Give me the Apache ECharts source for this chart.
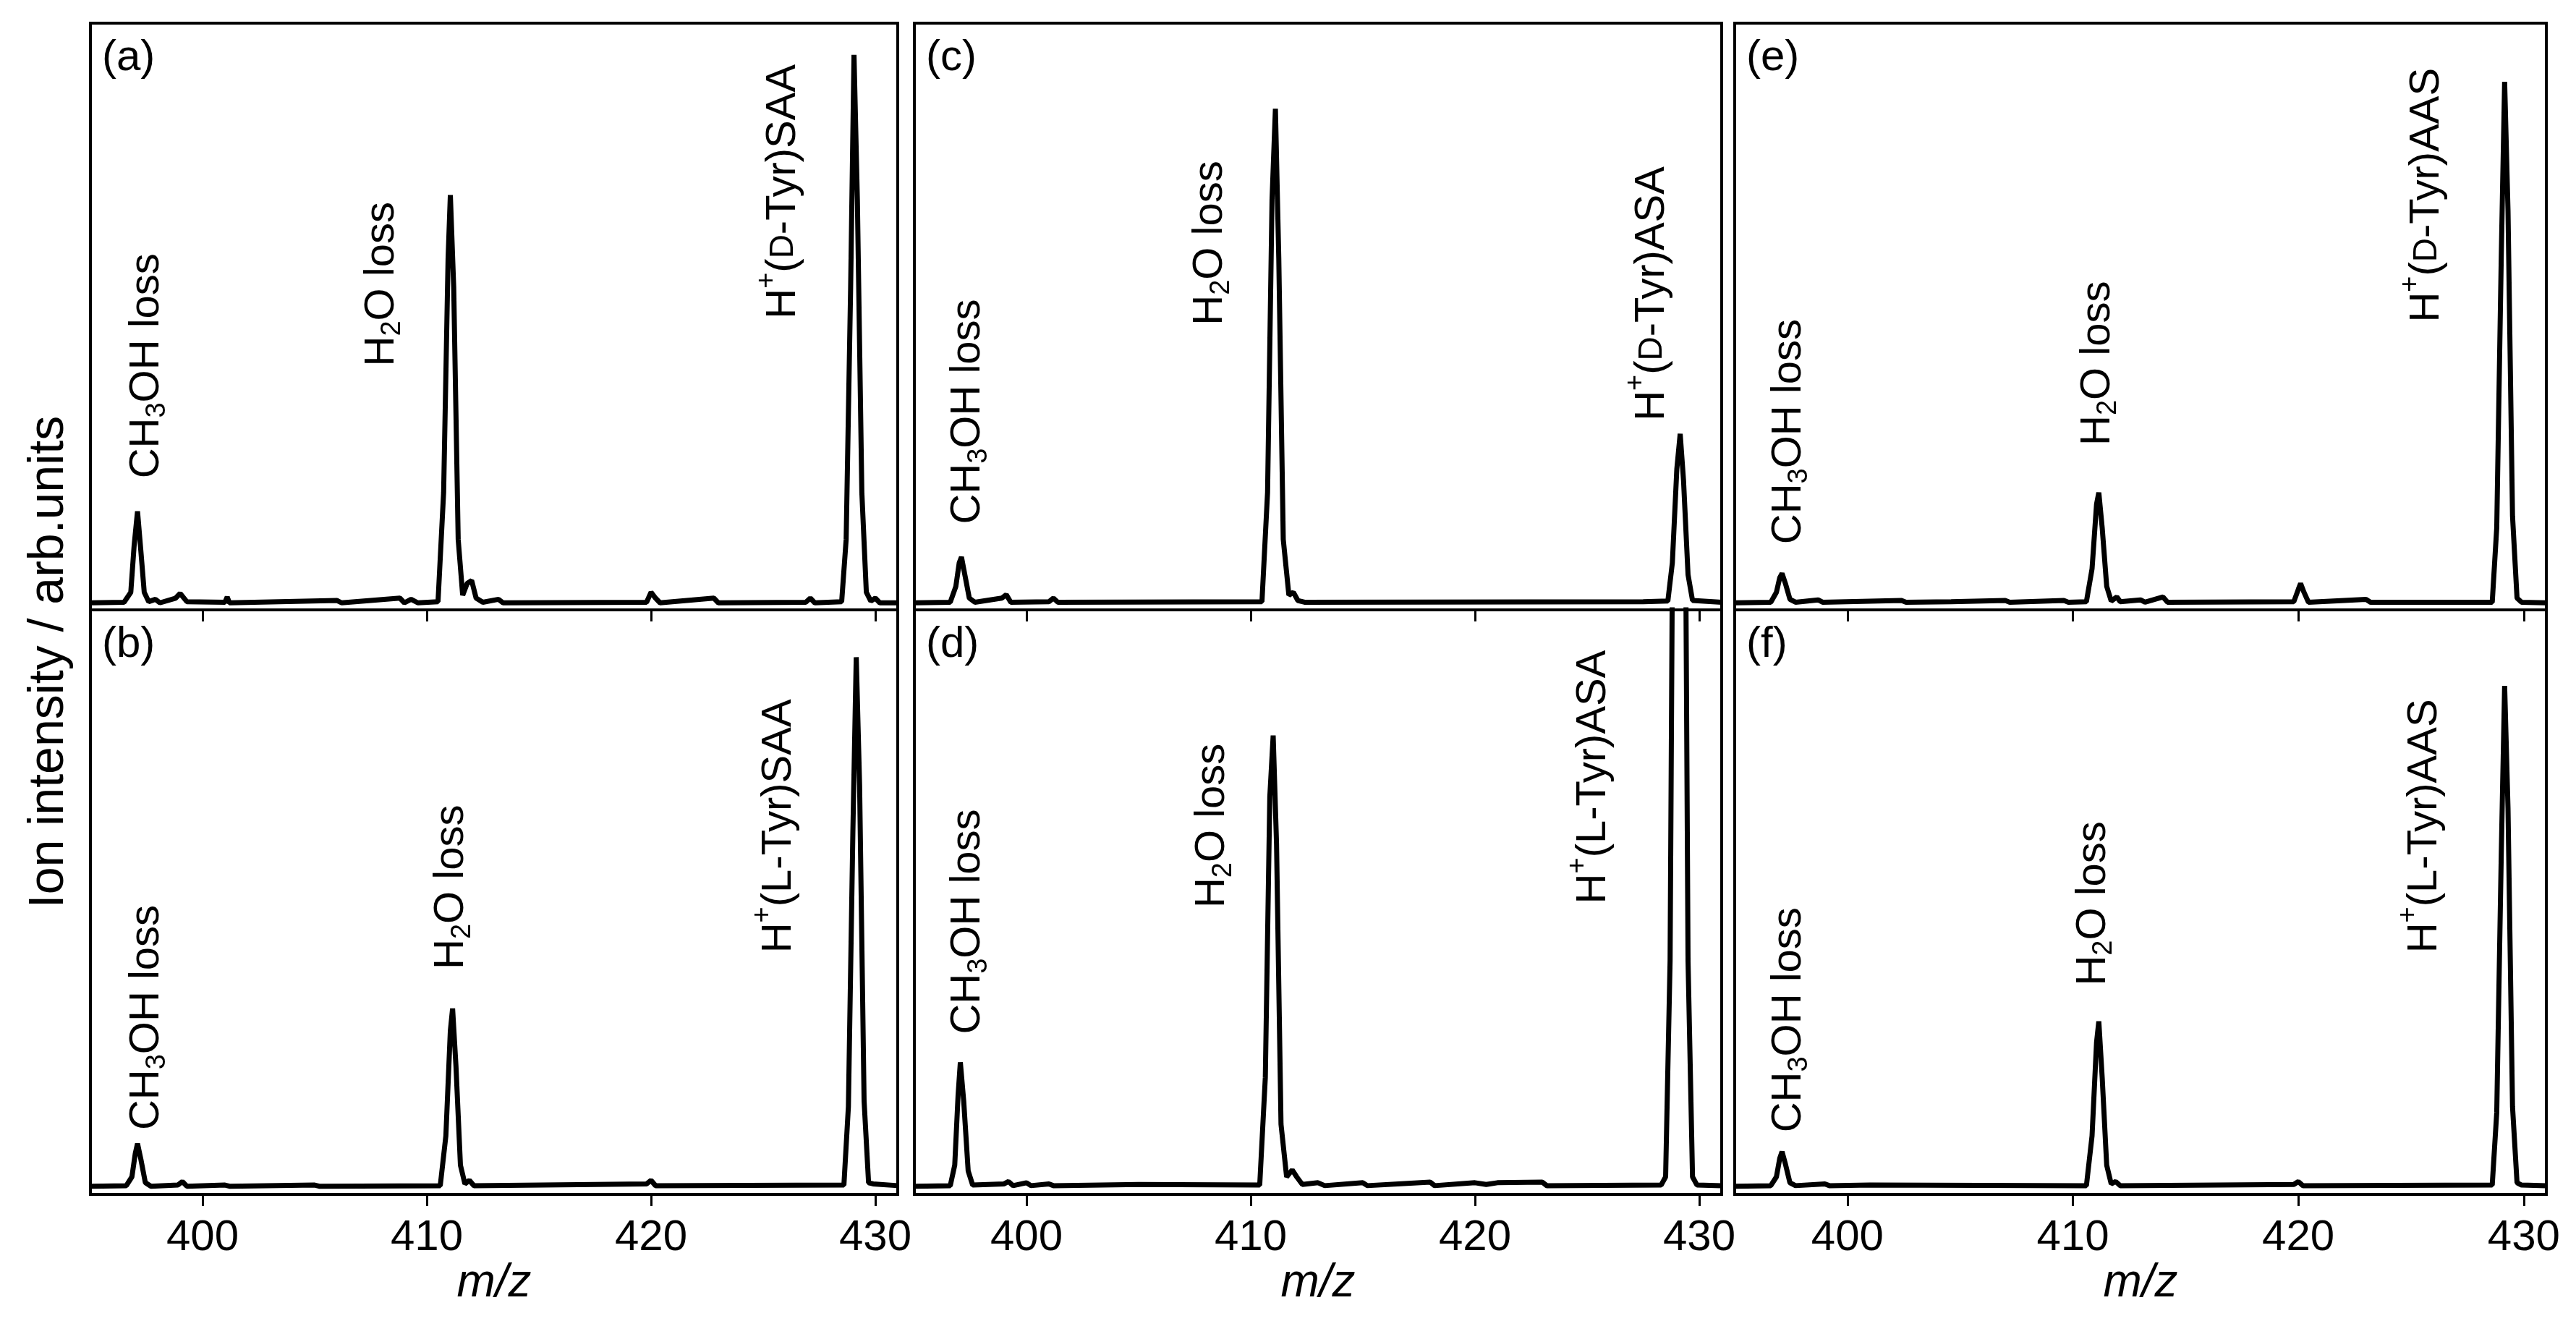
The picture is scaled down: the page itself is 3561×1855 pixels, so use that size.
<!DOCTYPE html>
<html><head><meta charset="utf-8">
<script src="https://cdn.jsdelivr.net/npm/echarts@6/dist/echarts.min.js"></script>
<style>html,body{margin:0;padding:0;background:#fff}#c{width:3561px;height:1855px}</style>
</head><body><div id="c"></div>
<script>
const xTicks = [400, 410, 420, 430];
const panelTags = ['(a)', '(b)', '(c)', '(d)', '(e)', '(f)'];

const specA = [[395,0.012],[396.5,0.013],[396.8,0.03],[396.95,0.11],[397.1,0.168],[397.25,0.10],[397.4,0.03],[397.6,0.014],[397.9,0.018],[398.1,0.012],[398.8,0.02],[399.0,0.028],[399.3,0.014],[401.0,0.013],[401.1,0.022],[401.2,0.012],[406.0,0.016],[406.2,0.012],[408.8,0.02],[409.0,0.012],[409.3,0.018],[409.6,0.012],[410.5,0.014],[410.75,0.2],[410.95,0.6],[411.05,0.707],[411.2,0.55],[411.4,0.12],[411.6,0.025],[411.8,0.045],[412.0,0.05],[412.2,0.02],[412.5,0.013],[413.2,0.018],[413.4,0.012],[419.8,0.013],[420.0,0.03],[420.2,0.02],[420.4,0.012],[422.8,0.02],[423.0,0.012],[426.9,0.013],[427.1,0.02],[427.3,0.012],[428.5,0.014],[428.7,0.12],[428.9,0.55],[429.05,0.946],[429.2,0.7],[429.4,0.2],[429.6,0.03],[429.8,0.015],[430.0,0.02],[430.2,0.012],[431,0.012]];
const specB = [[395,0.014],[396.6,0.015],[396.85,0.03],[397.0,0.07],[397.1,0.087],[397.25,0.06],[397.45,0.02],[397.7,0.014],[398.9,0.016],[399.1,0.022],[399.3,0.014],[401.0,0.016],[401.2,0.014],[405.0,0.016],[405.2,0.014],[410.6,0.015],[410.85,0.1],[411.05,0.28],[411.15,0.318],[411.3,0.22],[411.5,0.05],[411.7,0.018],[411.9,0.024],[412.1,0.015],[419.8,0.018],[420.0,0.024],[420.2,0.015],[428.6,0.016],[428.8,0.15],[429.0,0.62],[429.15,0.919],[429.3,0.7],[429.5,0.16],[429.7,0.02],[429.9,0.018],[431,0.015]];
const specC = [[395,0.012],[396.6,0.013],[396.85,0.04],[397.0,0.08],[397.1,0.09],[397.25,0.06],[397.45,0.02],[397.7,0.013],[398.9,0.02],[399.1,0.026],[399.3,0.013],[401.0,0.014],[401.2,0.02],[401.4,0.013],[410.5,0.014],[410.75,0.2],[410.95,0.7],[411.1,0.854],[411.25,0.6],[411.45,0.12],[411.7,0.025],[411.9,0.03],[412.1,0.016],[412.4,0.013],[427.5,0.014],[428.6,0.015],[428.8,0.08],[429.0,0.24],[429.15,0.30],[429.3,0.22],[429.5,0.06],[429.7,0.016],[431,0.013]];
const specD = [[395,0.014],[396.6,0.015],[396.8,0.05],[396.95,0.17],[397.05,0.226],[397.2,0.16],[397.4,0.04],[397.6,0.016],[399.0,0.018],[399.2,0.022],[399.4,0.015],[400.0,0.02],[400.2,0.015],[401.0,0.018],[401.2,0.015],[405.0,0.017],[410.4,0.016],[410.65,0.2],[410.85,0.68],[411.0,0.785],[411.15,0.6],[411.35,0.12],[411.6,0.03],[411.85,0.042],[412.05,0.03],[412.3,0.017],[413.0,0.02],[413.3,0.015],[415.0,0.02],[415.2,0.015],[418.0,0.021],[418.2,0.015],[420.0,0.02],[420.5,0.017],[421.0,0.02],[423.0,0.021],[423.2,0.015],[428.3,0.016],[428.5,0.03],[428.7,0.4],[428.85,1.4],[429.35,1.4],[429.5,0.4],[429.7,0.03],[429.9,0.016],[431,0.015]];
const specE = [[395,0.012],[396.6,0.013],[396.85,0.03],[397.0,0.055],[397.1,0.062],[397.25,0.045],[397.45,0.018],[397.7,0.013],[398.7,0.017],[398.9,0.013],[402.4,0.016],[402.6,0.013],[404.6,0.014],[407.0,0.016],[407.2,0.013],[409.6,0.016],[409.8,0.013],[410.6,0.014],[410.85,0.07],[411.05,0.18],[411.15,0.20],[411.3,0.14],[411.5,0.04],[411.7,0.015],[411.95,0.022],[412.1,0.014],[413.0,0.017],[413.2,0.013],[414.0,0.022],[414.2,0.013],[419.8,0.014],[420.0,0.035],[420.1,0.045],[420.25,0.03],[420.45,0.013],[423.0,0.018],[423.2,0.013],[428.6,0.013],[428.8,0.14],[429.0,0.6],[429.15,0.90],[429.3,0.68],[429.5,0.16],[429.7,0.02],[429.9,0.013],[431,0.012]];
const specF = [[395,0.014],[396.6,0.015],[396.85,0.03],[397.0,0.062],[397.1,0.073],[397.25,0.052],[397.45,0.02],[397.7,0.015],[399.0,0.018],[399.2,0.015],[401.0,0.016],[410.6,0.015],[410.85,0.1],[411.05,0.26],[411.15,0.296],[411.3,0.2],[411.5,0.05],[411.7,0.018],[411.9,0.022],[412.1,0.015],[419.8,0.017],[420.0,0.022],[420.2,0.015],[428.6,0.016],[428.8,0.14],[429.0,0.58],[429.15,0.87],[429.3,0.66],[429.5,0.15],[429.7,0.02],[429.9,0.016],[431,0.015]];
const spectra = [specA, specB, specC, specD, specE, specF];

// peak annotations: [m/z, intensity at text start, text kind]
const labelsA = [[397.5,0.224,'me'],[408.0,0.415,'w'],[425.9,0.496,'pD','SAA']];
const labelsB = [[397.5,0.11,'me'],[411.1,0.385,'w'],[425.7,0.413,'pL','SAA']];
const labelsC = [[397.4,0.146,'me'],[408.2,0.485,'w'],[427.9,0.322,'pD','ASA']];
const labelsD = [[397.4,0.274,'me'],[408.3,0.49,'w'],[425.3,0.497,'pL','ASA']];
const labelsE = [[397.4,0.112,'me'],[411.1,0.28,'w'],[425.7,0.49,'pD','AAS']];
const labelsF = [[397.4,0.106,'me'],[410.9,0.357,'w'],[425.6,0.413,'pL','AAS']];
const labelSets = [labelsA, labelsB, labelsC, labelsD, labelsE, labelsF];

const FS = 58, FONT = 'Liberation Sans';
const colLeft = [125, 1264, 2398], colW = [1116, 1116, 1122];
const rowTop = [32, 843], rowH = [811, 808];

const grids = [], xAxes = [], yAxes = [], series = [];
for (let i = 0; i < 6; i++) {
  const c = Math.floor(i / 2), r = i % 2;
  grids.push({left: colLeft[c], top: rowTop[r], width: colW[c], height: rowH[r],
    show: true, borderColor: '#000', borderWidth: 4, backgroundColor: 'transparent'});
  xAxes.push({type: 'value', gridIndex: i, min: 395, max: 431,
    axisLine: {show: false}, splitLine: {show: false},
    axisTick: {show: true, inside: false, length: 16, lineStyle: {color: '#000', width: 3}, customValues: xTicks},
    axisLabel: {show: r === 1, customValues: xTicks, color: '#000', fontSize: 60, fontFamily: FONT, margin: 30},
    name: r === 1 ? 'm/z' : '', nameLocation: 'middle', nameGap: 86,
    nameTextStyle: {fontSize: 64, fontFamily: FONT, fontStyle: 'italic', color: '#000'}});
  yAxes.push({type: 'value', gridIndex: i, min: 0, max: 1, show: false});
  series.push({type: 'line', xAxisIndex: i, yAxisIndex: i, data: spectra[i], symbol: 'none',
    clip: true, lineStyle: {color: '#000', width: 7}, animation: false});
}

const rich = {
  n: {fontSize: FS, fontFamily: FONT, color: '#000', lineHeight: 80},
  sub: {fontSize: 38, fontFamily: FONT, color: '#000', lineHeight: 80, padding: [30, 0, 0, 0]},
  sup: {fontSize: 38, fontFamily: FONT, color: '#000', lineHeight: 80, padding: [0, 0, 44, 0]},
  s: {fontSize: 46, fontFamily: FONT, color: '#000', lineHeight: 80}
};
function labelText(l) {
  if (l[2] === 'me') return '{n|CH}{sub|3}{n|OH loss}';
  if (l[2] === 'w') return '{n|H}{sub|2}{n|O loss}';
  if (l[2] === 'pD') return '{n|H}{sup|+}{n|(}{s|D}{n|-Tyr)' + l[3] + '}';
  return '{n|H}{sup|+}{n|(L-Tyr)' + l[3] + '}';
}

const chart = echarts.init(document.getElementById('c'));
chart.setOption({animation: false, backgroundColor: '#fff', grid: grids, xAxis: xAxes, yAxis: yAxes, series});

const g = [{type: 'text', x: 68, y: 915, rotation: Math.PI / 2,
  style: {text: 'Ion intensity / arb.units', fontSize: 68, fontFamily: FONT, fill: '#000', align: 'center', verticalAlign: 'middle'}}];
for (let i = 0; i < 6; i++) {
  const c = Math.floor(i / 2), r = i % 2;
  g.push({type: 'text', x: colLeft[c] + 16, y: rowTop[r] + 18,
    style: {text: panelTags[i], fontSize: 60, fontFamily: FONT, fill: '#000', align: 'left', verticalAlign: 'top'}});
  labelSets[i].forEach(l => {
    const p = chart.convertToPixel({gridIndex: i}, [l[0], l[1]]);
    g.push({type: 'text', x: p[0], y: p[1], rotation: Math.PI / 2,
      style: {text: labelText(l), rich, align: 'left', verticalAlign: 'middle'}});
  });
}
chart.setOption({graphic: g});
</script></body></html>
